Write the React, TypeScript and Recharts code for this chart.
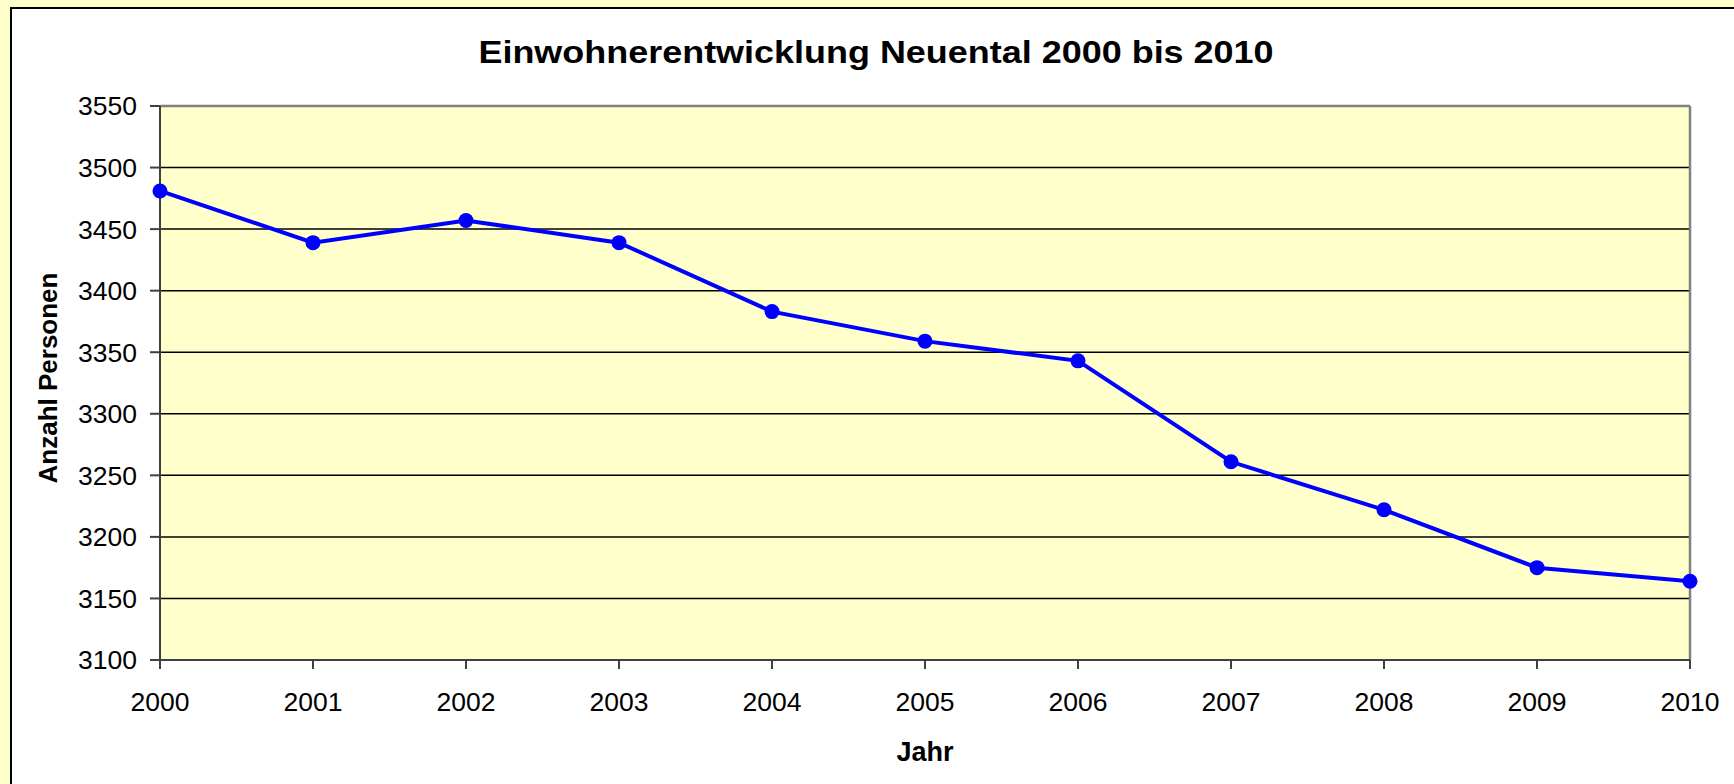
import React from 'react';
import { LineChart, Line, XAxis, YAxis, CartesianGrid, ReferenceLine } from 'recharts';

const years = [2000, 2001, 2002, 2003, 2004, 2005, 2006, 2007, 2008, 2009, 2010];
const population = [3481, 3439, 3457, 3439, 3383, 3359, 3343, 3261, 3222, 3175, 3164];
const yTicks = [3100, 3150, 3200, 3250, 3300, 3350, 3400, 3450, 3500, 3550];
const title = 'Einwohnerentwicklung Neuental 2000 bis 2010';
const xTitle = 'Jahr';
const yTitle = 'Anzahl Personen';

const data = years.map((y, i) => ({ year: y, value: population[i] }));

const FONT = '"Liberation Sans", Arial, sans-serif';

export default function App() {
  return (
    <div style={{ position: 'absolute', left: 0, top: 0, width: 1734, height: 784, background: '#FFFFCC', overflow: 'hidden' }}>
      <div style={{ position: 'absolute', left: 10, top: 7, width: 1760, height: 820, background: '#FFFFFF', borderLeft: '2px solid #000', borderTop: '2px solid #000' }} />
      <div style={{ position: 'absolute', left: 0, top: 0 }}>
        <LineChart width={1734} height={784} data={data} margin={{ top: 106, right: 44, bottom: 64, left: 80 }}>
          <CartesianGrid horizontal vertical={false} stroke="#000000" strokeWidth={1.5} fill="#FFFFCC" fillOpacity={1} />
          <ReferenceLine y={3550} stroke="#808080" strokeWidth={2.5} />
          <ReferenceLine x={2010} stroke="#808080" strokeWidth={2.5} />
          <XAxis
            dataKey="year"
            type="category"
            height={60}
            tickSize={9}
            tickMargin={23}
            stroke="#404040"
            strokeWidth={2}
            tick={{ fill: '#000000', fontSize: 26.5, fontFamily: FONT }}
            interval={0}
          />
          <YAxis
            width={80}
            domain={[3100, 3550]}
            ticks={yTicks}
            interval={0}
            tickSize={10}
            tickMargin={13}
            stroke="#404040"
            strokeWidth={2}
            tick={{ fill: '#000000', fontSize: 26.5, fontFamily: FONT }}
          />
          <Line
            type="linear"
            dataKey="value"
            stroke="#0000FF"
            strokeWidth={4}
            dot={{ r: 7.5, fill: '#0000FF', stroke: '#0000FF', strokeWidth: 0 }}
            activeDot={false}
            isAnimationActive={false}
          />
        </LineChart>
      </div>
      <svg width={1734} height={784} style={{ position: 'absolute', left: 0, top: 0, pointerEvents: 'none' }}>
        <text x={0} y={0} transform="translate(876 63) scale(1.16 1)" textAnchor="middle" fontFamily={FONT} fontWeight="bold" fontSize={31} fill="#000">{title}</text>
        <text x={925} y={761} textAnchor="middle" fontFamily={FONT} fontWeight="bold" fontSize={27} fill="#000">{xTitle}</text>
        <text x={57} y={378} transform="rotate(-90 57 378)" textAnchor="middle" fontFamily={FONT} fontWeight="bold" fontSize={26} fill="#000">{yTitle}</text>
      </svg>
    </div>
  );
}
